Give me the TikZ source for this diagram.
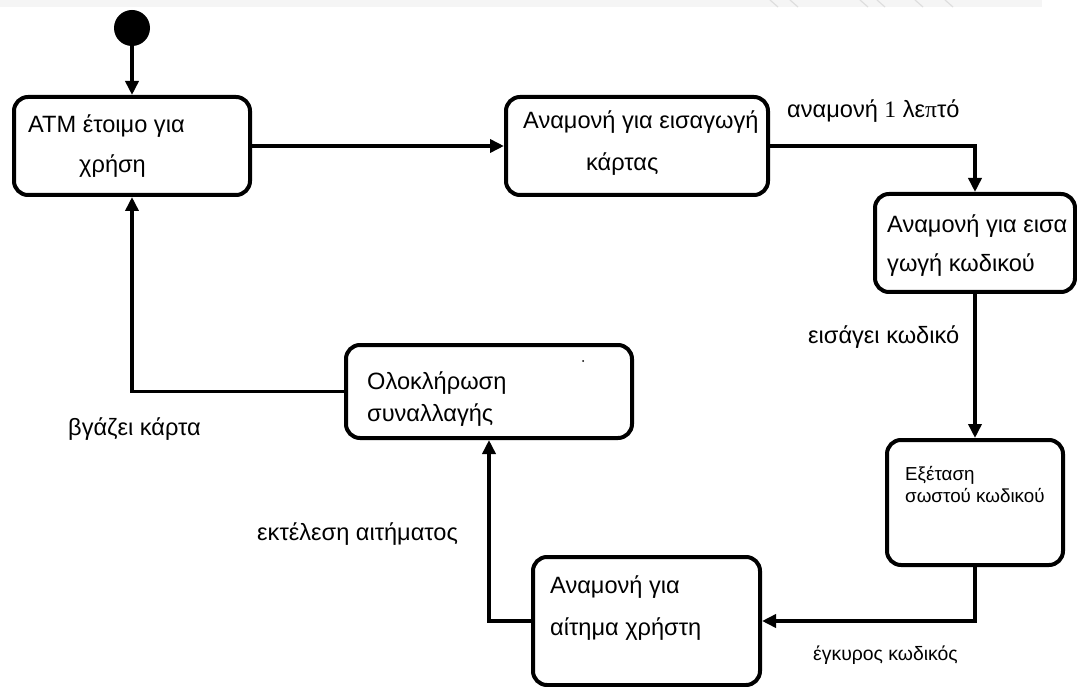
\documentclass[tikz,border=0pt]{standalone}
\usepackage{fontspec}
\setmainfont{Liberation Sans}
\newfontfamily\serifnum{Liberation Serif}
\usetikzlibrary{arrows.meta}
\tikzset{
  box/.style={draw, line width=4pt, rounded corners=14pt, inner sep=0pt},
  conn/.style={line width=3.5pt, line join=miter, -{Triangle[length=14pt,width=13pt]}},
  txt/.style={anchor=base west, inner sep=0pt, font=\fontsize{23.6}{28}\selectfont},
  smalltxt/.style={anchor=base west, inner sep=0pt, font=\fontsize{18.8}{22}\selectfont},
  labtxt/.style={anchor=base west, inner sep=0pt, font=\fontsize{19.4}{23}\selectfont},
}
\begin{document}
\begin{tikzpicture}[x=1pt,y=-1pt]
\useasboundingbox (0,0) rectangle (1077,687);
% faint scan band at top
\fill[black!4] (0,0) rectangle (1042,7);
\foreach \xx in {770,790,860,877,915,945}{
  \draw[black!13, line width=1.2pt] (\xx,0) -- (\xx+8,7);
}
% initial state
\node[circle, fill=black, minimum size=36pt, inner sep=0pt] (init) at (132,28) {};
% states
\node[box, minimum width=236pt, minimum height=98pt] (b1) at (132,146) {};
\node[box, minimum width=262pt, minimum height=98pt] (b2) at (637,146) {};
\node[box, minimum width=200pt, minimum height=98pt] (b3) at (975,243) {};
\node[box, minimum width=176pt, minimum height=125pt] (b4) at (975,502.5) {};
\node[box, minimum width=227pt, minimum height=128pt] (b5) at (646.5,621) {};
\node[box, minimum width=286pt, minimum height=93pt] (b6) at (489,391.5) {};
% state texts
\node[txt] (t1a) at (28,133) {ATM έτοιμο για};
\node[txt] (t1b) at (79,173) {χρήση};
\node[txt] (t2a) at (523,129) {Αναμονή για εισαγωγή};
\node[txt] (t2b) at (586,171) {κάρτας};
\node[txt] (t3a) at (887,233) {Αναμονή για εισα};
\node[txt] (t3b) at (887,272) {γωγή κωδικού};
\node[smalltxt] (t4a) at (905,480) {Εξέταση};
\node[smalltxt] (t4b) at (905,502) {σωστού κωδικού};
\node[txt] (t5a) at (550,593) {Αναμονή για};
\node[txt] (t5b) at (550,635) {αίτημα χρήστη};
\node[txt] (t6a) at (367,389) {Ολοκλήρωση};
\node[txt] (t6b) at (367,421) {συναλλαγής};
\fill (583,361) circle (1pt);
% connectors
\draw[conn] (init) -- (b1.north);
\draw[conn] (b1.east) -- (b2.west);
\draw[conn] (b2.east) -| (b3.north);
\draw[conn] (b3.south) -- (b4.north);
\draw[conn] (b4.south) |- (b5.east);
\draw[conn] (b5.west) -| (b6.south);
\draw[conn] (b6.west) -| (b1.south);
% transition labels
\node[txt] (l1) at (787,118) {αναμονή {\serifnum 1} λε{\serifnum π}τό};
\node[txt] (l2) at (808,343) {εισάγει κωδικό};
\node[labtxt] (l3) at (813,660) {έγκυρος κωδικός};
\node[txt] (l4) at (257,540) {εκτέλεση αιτήματος};
\node[txt] (l5) at (68,435) {βγάζει κάρτα};
\end{tikzpicture}
\end{document}
